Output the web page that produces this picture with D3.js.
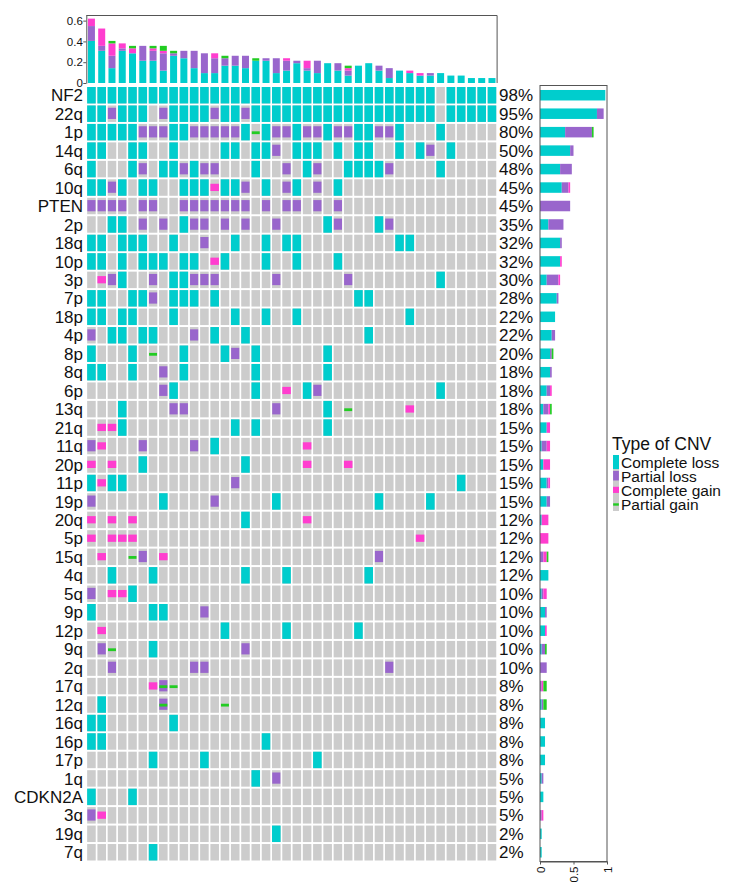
<!DOCTYPE html>
<html><head><meta charset="utf-8">
<script src="https://cdn.jsdelivr.net/npm/d3@7"></script>
<style>
body{margin:0;background:#fff}
svg{display:block}
text{font-family:"Liberation Sans",Arial,sans-serif}
</style>
</head><body>
<svg id="c" width="740" height="895"></svg>
<script>
// Row categories (chromosome arms / genes)
const genes = ["NF2","22q","1p","14q","6q","10q","PTEN","2p","18q","10p","3p","7p","18p","4p","8p","8q","6p","13q","21q","11q","20p","11p","19p","20q","5p","15q","4q","5q","9p","12p","9q","2q","17q","12q","16q","16p","17p","1q","CDKN2A","3q","19q","7q"];
// Percent labels shown at right of each row
const pctLabels = ["98%","95%","80%","50%","48%","45%","45%","35%","32%","32%","30%","28%","22%","22%","20%","18%","18%","18%","15%","15%","15%","15%","15%","12%","12%","12%","12%","10%","10%","10%","10%","10%","8%","8%","8%","8%","8%","5%","5%","5%","2%","2%"];
// Alteration matrix, one string per row, one char per sample (40 samples)
// C = complete loss, P = partial loss, A = complete gain, g = partial gain, X = partial loss + partial gain, . = none
const alterations = [
 "CCCCCCCCCCCCCCCCCCCCCCCCCCCCCCCCCC.CCCCC",
 "CCPCCC.PCCCCPCCPCCCCCCCCCCCCCCCCCC.CCCCC",
 "CCCCCPPPCCPPPPPCgCPPCPPCPPCCPPC...C.....",
 "CC..CC..C....CC.CCP.CCC.C.CC..C.CP.C....",
 "C...CP.CCPCPP...C..P.CP..CCCCP....C.....",
 "CCPC.CC..CCCACCP.C.PC.P.C...............",
 "PPPP.PP..PPPPPPP.P.PP.P.P...............",
 "..CC.P.P.CPP.P.P..P....CP...CP..........",
 "CC.CCC..C..P..C..C.CC.........CC........",
 "CC.C.CCC.CC.AC...C..C...C...............",
 ".APC..P.CCPPP.....P......P........C.....",
 "CC..CCP.CCC.C.............CC............",
 "CC.CC...C.....C..C..C..........C........",
 "P.CC.CC...P.C..C...........C............",
 "C...C.g..C...CP.C......C................",
 "CC..C..P.C......C......C................",
 ".......PC.......C..A.CP...........C.....",
 "...C....PP........P....C.g.....A........",
 ".AAC..........C.C......C................",
 "PA...P....P.C........A..................",
 "A.A..C.........C.....A...A..............",
 "CACC..........P.....................C...",
 "P......C....P.....C.........C....C......",
 "A.A.A..........C.....A..................",
 "A.AAA...........................A.......",
 ".A..gP.A....................P...........",
 "..C...C........C...C.......C............",
 "P.AAC...................................",
 "C.....CC...P............................",
 ".A...........C.....C......C.............",
 ".Pg...C........P........................",
 "..P.......PP.................P..........",
 "......AXg...............................",
 ".C.....X.....g..........................",
 "CC......C...............................",
 "CC...............C......................",
 "......C....C..........C.................",
 "................C.P.....................",
 "C...C...................................",
 "PA......................................",
 "..................C.....................",
 "......C................................."
];
const typeNames = ["Complete loss","Partial loss","Complete gain","Partial gain"];
const typeColors = ["#00CDCD","#9966CC","#FF3DCF","#22CC22"];
const topTicks = [0,0.2,0.4,0.6];
const sideTicks = [0,0.5,1];
const nSamples = 40;

const codeMap = {C:[0],P:[1],A:[2],g:[3],X:[1,3]};
// glyph geometry per type: [top fraction, height fraction, horizontal inset px]
const glyph = [[0,1,0],[0.14,0.68,0.2],[0.27,0.44,0],[0.45,0.17,0.3]];

const events = [];
alterations.forEach((s,r)=>{
  [...s].forEach((ch,c)=>{ (codeMap[ch]||[]).forEach(t=>events.push({g:genes[r],c,t})); });
});
events.sort((a,b)=>a.t-b.t);

const svg = d3.select("#c");
const x = d3.scaleBand().domain(d3.range(nSamples)).range([86.3,497.1]);
const y = d3.scaleBand().domain(genes).range([86,861.5]);
const cw = x.bandwidth(), rh = y.bandwidth();
const cx0 = 0.85, cy0 = 1, cW = cw-1.7, cH = rh-2;

// background cells
svg.append("g").selectAll("rect")
  .data(d3.cross(genes, d3.range(nSamples)))
  .join("rect")
  .attr("x",d=>x(d[1])+cx0).attr("y",d=>y(d[0])+cy0)
  .attr("width",cW).attr("height",cH).attr("fill","#CCCCCC");

// alteration glyphs
svg.append("g").selectAll("rect")
  .data(events).join("rect")
  .attr("x",d=>x(d.c)+cx0+glyph[d.t][2])
  .attr("y",d=>y(d.g)+cy0+glyph[d.t][0]*cH)
  .attr("width",d=>cW-2*glyph[d.t][2])
  .attr("height",d=>glyph[d.t][1]*cH)
  .attr("fill",d=>typeColors[d.t]);

// row labels
svg.append("g").selectAll("text").data(genes).join("text")
  .attr("x",83).attr("y",d=>y(d)+rh/2).attr("dy","0.36em")
  .attr("text-anchor","end").attr("font-size",17).attr("fill","#111").text(d=>d);
svg.append("g").selectAll("text").data(pctLabels).join("text")
  .attr("x",499).attr("y",(d,i)=>y(genes[i])+rh/2).attr("dy","0.36em")
  .attr("font-size",17).attr("fill","#111").text(d=>d);

// ---- top bar chart (fraction of rows altered per sample)
const colCounts = d3.range(nSamples).map(c=>({c,0:0,1:0,2:0,3:0}));
events.forEach(e=>colCounts[e.c][e.t]++);
const yt = d3.scaleLinear().domain([0,0.654]).range([83,15]);
const stTop = d3.stack().keys([0,1,2,3]).value((d,k)=>d[k]/genes.length)(colCounts);
const bw = 7;
svg.append("g").selectAll("g").data(stTop).join("g")
  .attr("fill",s=>typeColors[s.key])
  .selectAll("rect").data(s=>s).join("rect")
  .attr("x",d=>x(d.data.c)+(cw-bw)/2).attr("width",bw)
  .attr("y",d=>yt(d[1])).attr("height",d=>yt(d[0])-yt(d[1]));
const ax = svg.append("g").attr("transform","translate(86.3,0)")
  .call(d3.axisLeft(yt).tickValues(topTicks).tickSize(3).tickSizeOuter(0)
    .tickFormat(d=>d===0?"0":d3.format(".1f")(d)));
ax.selectAll("text").attr("font-size",11.5).attr("fill","#111").attr("x",-3.5).attr("font-family","Liberation Sans, Arial, sans-serif");
ax.selectAll("line,path").attr("stroke","#555");
svg.append("path").attr("d",`M86.3,15.5H497.1V83`).attr("fill","none").attr("stroke","#555");

// ---- right bar chart (fraction of samples altered per row)
const rowCounts = genes.map(g=>({g,0:0,1:0,2:0,3:0}));
const gi = new Map(genes.map((g,i)=>[g,i]));
events.forEach(e=>rowCounts[gi.get(e.g)][e.t]++);
const xr = d3.scaleLinear().domain([0,1]).range([540,607]);
const stSide = d3.stack().keys([0,1,2,3]).value((d,k)=>d[k]/nSamples)(rowCounts);
const bh = 10.5;
svg.append("g").selectAll("g").data(stSide).join("g")
  .attr("fill",s=>typeColors[s.key])
  .selectAll("rect").data(s=>s).join("rect")
  .attr("y",d=>y(d.data.g)+(rh-bh)/2).attr("height",bh)
  .attr("x",d=>xr(d[0])).attr("width",d=>xr(d[1])-xr(d[0]));
svg.append("rect").attr("x",540).attr("y",85.5).attr("width",67).attr("height",776)
  .attr("fill","none").attr("stroke","#555");
const bx = svg.append("g").attr("transform","translate(0,861.5)")
  .call(d3.axisBottom(xr).tickValues(sideTicks).tickSize(3).tickSizeOuter(0).tickFormat(d3.format("")));
bx.selectAll("line,path").attr("stroke","#555");
bx.selectAll("text").attr("transform","rotate(-90)").attr("text-anchor","end")
  .attr("x",-5).attr("y",0).attr("dy","0.35em").attr("font-size",11.5).attr("fill","#111")
  .attr("font-family","Liberation Sans, Arial, sans-serif");

// ---- legend
const lg = svg.append("g");
lg.append("text").attr("x",612).attr("y",444).attr("dy","0.36em").attr("font-size",17.5)
  .attr("fill","#111").text("Type of CNV");
const ky = [455,469,483,497], kh = 14, kw = 6;
typeNames.forEach((n,i)=>{
  lg.append("rect").attr("x",613).attr("y",ky[i]).attr("width",kw).attr("height",kh).attr("fill","#CCCCCC");
  lg.append("rect").attr("x",613+glyph[i][2]*0.5).attr("y",ky[i]+glyph[i][0]*kh)
    .attr("width",kw-glyph[i][2]).attr("height",glyph[i][1]*kh).attr("fill",typeColors[i]);
  lg.append("text").attr("x",621).attr("y",ky[i]+kh/2).attr("dy","0.36em")
    .attr("font-size",15.5).attr("fill","#111").text(n);
});
</script>
</body></html>
